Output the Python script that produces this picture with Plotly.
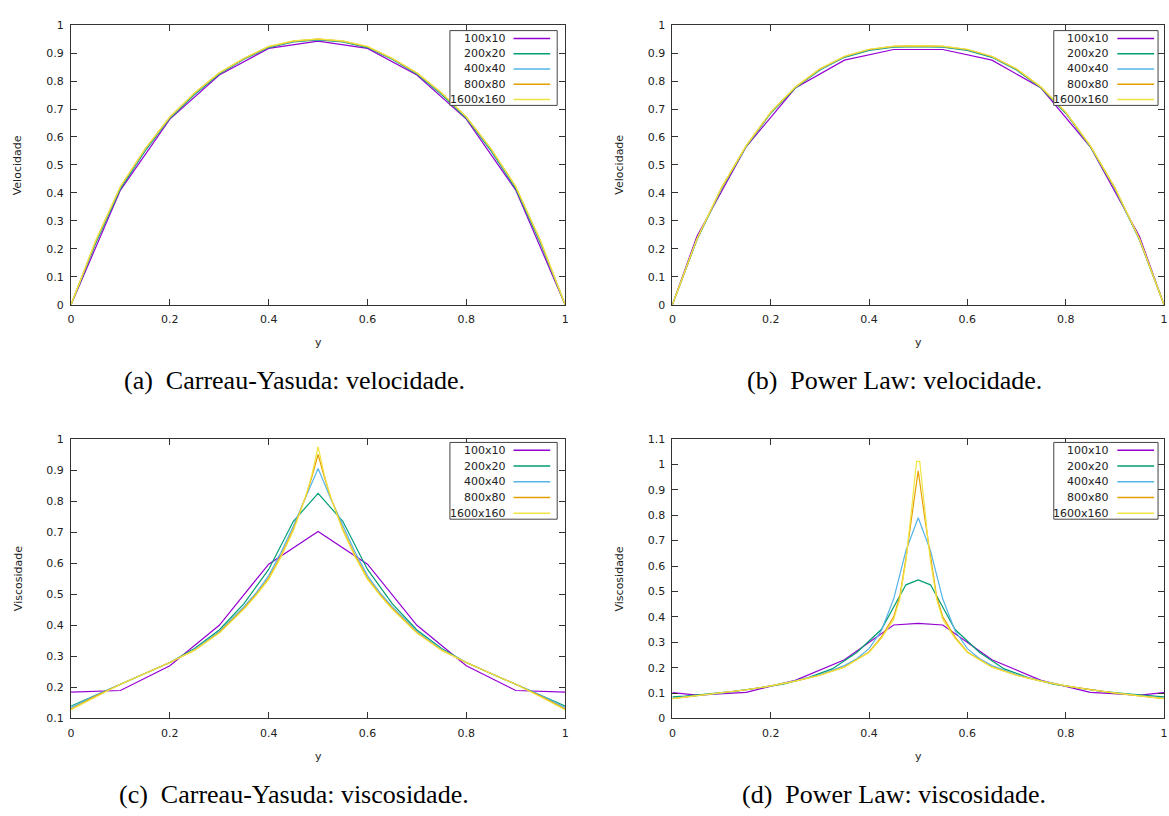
import plotly.graph_objects as go

W, H = 1169, 816

# ---------------- data ----------------
series_names = ["100x10", "200x20", "400x40", "800x80", "1600x160"]
series_colors = ["#9400d3", "#009e73", "#56b4e9", "#e69f00", "#f0e442"]

x10 = [0.0, 0.1, 0.2, 0.3, 0.4, 0.5, 0.6, 0.7, 0.8, 0.9, 1.0]
x20 = [0.0, 0.05, 0.1, 0.15, 0.2, 0.25, 0.3, 0.35, 0.4, 0.45, 0.5,
       0.55, 0.6, 0.65, 0.7, 0.75, 0.8, 0.85, 0.9, 0.95, 1.0]

# (a) Carreau-Yasuda velocity
a_100 = [0, 0.41, 0.664, 0.822, 0.917, 0.943, 0.917, 0.822, 0.664, 0.41, 0]
a_200 = [0, 0.22, 0.415, 0.55, 0.667, 0.752, 0.825, 0.878, 0.92, 0.94, 0.947,
         0.94, 0.92, 0.878, 0.825, 0.752, 0.667, 0.55, 0.415, 0.22, 0]
a_400 = [0, 0.225, 0.42, 0.555, 0.67, 0.755, 0.828, 0.88, 0.922, 0.942, 0.949,
         0.942, 0.922, 0.88, 0.828, 0.755, 0.67, 0.555, 0.42, 0.225, 0]
a_800 = [0, 0.228, 0.422, 0.557, 0.671, 0.757, 0.829, 0.881, 0.923, 0.943, 0.95,
         0.943, 0.923, 0.881, 0.829, 0.757, 0.671, 0.557, 0.422, 0.228, 0]
a_1600 = [0, 0.23, 0.423, 0.558, 0.672, 0.758, 0.83, 0.882, 0.924, 0.944, 0.951,
          0.944, 0.924, 0.882, 0.83, 0.758, 0.672, 0.558, 0.423, 0.23, 0]

# (b) Power Law velocity
bx100 = [0, 0.05, 0.15, 0.25, 0.35, 0.45, 0.55, 0.65, 0.75, 0.85, 0.95, 1]
b_100 = [0, 0.245, 0.565, 0.775, 0.875, 0.913, 0.913, 0.875, 0.775, 0.565, 0.245, 0]
b_200 = [0, 0.232, 0.415, 0.565, 0.685, 0.775, 0.84, 0.885, 0.91, 0.921, 0.923,
         0.921, 0.91, 0.885, 0.84, 0.775, 0.685, 0.565, 0.415, 0.232, 0]
b_400 = [0, 0.234, 0.417, 0.567, 0.687, 0.777, 0.842, 0.887, 0.912, 0.923, 0.925,
         0.923, 0.912, 0.887, 0.842, 0.777, 0.687, 0.567, 0.417, 0.234, 0]
b_800 = [0, 0.235, 0.418, 0.568, 0.688, 0.778, 0.843, 0.888, 0.913, 0.924, 0.926,
         0.924, 0.913, 0.888, 0.843, 0.778, 0.688, 0.568, 0.418, 0.235, 0]
b_1600 = [0, 0.236, 0.419, 0.569, 0.689, 0.779, 0.844, 0.889, 0.914, 0.925, 0.927,
          0.925, 0.914, 0.889, 0.844, 0.779, 0.689, 0.569, 0.419, 0.236, 0]

# (c) Carreau-Yasuda viscosity
c_100 = [0.185, 0.19, 0.27, 0.40, 0.597, 0.702, 0.597, 0.40, 0.27, 0.19, 0.185]
c_200 = [0.14, 0.175, 0.21, 0.245, 0.28, 0.325, 0.385, 0.47, 0.58, 0.735, 0.825,
         0.735, 0.58, 0.47, 0.385, 0.325, 0.28, 0.245, 0.21, 0.175, 0.14]
cx400 = [0, 0.05, 0.1, 0.15, 0.2, 0.25, 0.3, 0.35, 0.375, 0.4, 0.425, 0.45, 0.475, 0.5,
         0.525, 0.55, 0.575, 0.6, 0.625, 0.65, 0.7, 0.75, 0.8, 0.85, 0.9, 0.95, 1]
c_400 = [0.135, 0.175, 0.21, 0.245, 0.28, 0.322, 0.38, 0.46, 0.505, 0.56, 0.635, 0.72, 0.81, 0.905,
         0.81, 0.72, 0.635, 0.56, 0.505, 0.46, 0.38, 0.322, 0.28, 0.245, 0.21, 0.175, 0.135]
cx800 = [0, 0.05, 0.1, 0.15, 0.2, 0.25, 0.3, 0.35, 0.375, 0.4, 0.425, 0.45, 0.475, 0.4875, 0.5,
         0.5125, 0.525, 0.55, 0.575, 0.6, 0.625, 0.65, 0.7, 0.75, 0.8, 0.85, 0.9, 0.95, 1]
c_800 = [0.13, 0.172, 0.21, 0.245, 0.28, 0.32, 0.377, 0.455, 0.5, 0.552, 0.625, 0.71, 0.815, 0.878, 0.95,
         0.878, 0.815, 0.71, 0.625, 0.552, 0.5, 0.455, 0.377, 0.32, 0.28, 0.245, 0.21, 0.172, 0.13]
cx1600 = [0, 0.05, 0.1, 0.15, 0.2, 0.25, 0.3, 0.35, 0.375, 0.4, 0.425, 0.45, 0.475, 0.4875, 0.49375, 0.5,
          0.50625, 0.5125, 0.525, 0.55, 0.575, 0.6, 0.625, 0.65, 0.7, 0.75, 0.8, 0.85, 0.9, 0.95, 1]
c_1600 = [0.128, 0.17, 0.21, 0.245, 0.28, 0.32, 0.375, 0.452, 0.497, 0.548, 0.62, 0.705, 0.815, 0.885, 0.93, 0.975,
          0.93, 0.885, 0.815, 0.705, 0.62, 0.548, 0.497, 0.452, 0.375, 0.32, 0.28, 0.245, 0.21, 0.17, 0.128]

# (d) Power Law viscosity
dx100 = [0, 0.05, 0.15, 0.25, 0.35, 0.45, 0.5, 0.55, 0.65, 0.75, 0.85, 0.95, 1]
d_100 = [0.102, 0.092, 0.103, 0.15, 0.231, 0.368, 0.374, 0.368, 0.231, 0.15, 0.103, 0.092, 0.102]
dx200 = [0, 0.025, 0.075, 0.125, 0.175, 0.225, 0.275, 0.325, 0.375, 0.425, 0.475, 0.5,
         0.525, 0.575, 0.625, 0.675, 0.725, 0.775, 0.825, 0.875, 0.925, 0.975, 1]
d_200 = [0.085, 0.088, 0.097, 0.107, 0.12, 0.135, 0.16, 0.195, 0.26, 0.35, 0.526, 0.545,
         0.526, 0.35, 0.26, 0.195, 0.16, 0.135, 0.12, 0.107, 0.097, 0.088, 0.085]
dx400 = [0, 0.05, 0.1, 0.15, 0.2, 0.25, 0.3, 0.35, 0.375, 0.4, 0.425, 0.45, 0.475, 0.5,
         0.525, 0.55, 0.575, 0.6, 0.625, 0.65, 0.7, 0.75, 0.8, 0.85, 0.9, 0.95, 1]
d_400 = [0.08, 0.09, 0.1, 0.113, 0.128, 0.148, 0.172, 0.208, 0.235, 0.275, 0.345, 0.47, 0.66, 0.79,
         0.66, 0.47, 0.345, 0.275, 0.235, 0.208, 0.172, 0.148, 0.128, 0.113, 0.1, 0.09, 0.08]
dx800 = [0, 0.05, 0.1, 0.15, 0.2, 0.25, 0.3, 0.35, 0.4, 0.425, 0.45, 0.4625, 0.475, 0.4875, 0.5,
         0.5125, 0.525, 0.5375, 0.55, 0.575, 0.6, 0.65, 0.7, 0.75, 0.8, 0.85, 0.9, 0.95, 1]
d_800 = [0.078, 0.089, 0.1, 0.113, 0.128, 0.147, 0.17, 0.203, 0.262, 0.32, 0.4, 0.48, 0.63, 0.8, 0.975,
         0.8, 0.63, 0.48, 0.4, 0.32, 0.262, 0.203, 0.17, 0.147, 0.128, 0.113, 0.1, 0.089, 0.078]
dx1600 = [0, 0.05, 0.1, 0.15, 0.2, 0.25, 0.3, 0.35, 0.4, 0.425, 0.45, 0.4625, 0.475, 0.48125, 0.4875,
          0.49375, 0.496875, 0.503125, 0.50625, 0.5125, 0.51875, 0.525, 0.5375, 0.55, 0.575, 0.6,
          0.65, 0.7, 0.75, 0.8, 0.85, 0.9, 0.95, 1]
d_1600 = [0.078, 0.089, 0.1, 0.113, 0.128, 0.147, 0.17, 0.202, 0.26, 0.315, 0.39, 0.47, 0.62, 0.72, 0.84,
          0.96, 1.012, 1.012, 0.96, 0.84, 0.72, 0.62, 0.47, 0.39, 0.315, 0.26,
          0.202, 0.17, 0.147, 0.128, 0.113, 0.1, 0.089, 0.078]

x_ticks = [0, 0.2, 0.4, 0.6, 0.8, 1]
captions = ["(a)\u2002Carreau-Yasuda: velocidade.", "(b)\u2002Power Law: velocidade.",
            "(c)\u2002Carreau-Yasuda: viscosidade.", "(d)\u2002Power Law: viscosidade."]
y_titles = ["Velocidade", "Velocidade", "Viscosidade", "Viscosidade"]

panels = [
    dict(xs=[x10, x20, x20, x20, x20], ys=[a_100, a_200, a_400, a_800, a_1600],
         yrange=[0, 1], ydtick=0.1),
    dict(xs=[bx100, x20, x20, x20, x20], ys=[b_100, b_200, b_400, b_800, b_1600],
         yrange=[0, 1], ydtick=0.1),
    dict(xs=[x10, x20, cx400, cx800, cx1600], ys=[c_100, c_200, c_400, c_800, c_1600],
         yrange=[0.1, 1], ydtick=0.1),
    dict(xs=[dx100, dx200, dx400, dx800, dx1600], ys=[d_100, d_200, d_400, d_800, d_1600],
         yrange=[0, 1.1], ydtick=0.1),
]

# ---------------- layout geometry (pixels) ----------------
plot_left = [67.5, 673, 67.5, 673]
plot_right = [565, 1168, 565, 1168]
plot_top = [19.5, 19.5, 440, 440]
plot_bottom = [303.5, 303.5, 724, 724]


def px(x):
    return x / W


def py(y):
    return 1 - y / H


AX = "#333333"
TICKFONT = dict(family="DejaVu Sans", size=11, color="#222222")

fig = go.Figure()
layout = dict(width=W, height=H, margin=dict(l=0, r=0, t=0, b=0),
              paper_bgcolor="white", plot_bgcolor="white", showlegend=False)
shapes, annotations = [], []

for i, p in enumerate(panels):
    k = "" if i == 0 else str(i + 1)
    for j in range(5):
        fig.add_trace(go.Scatter(x=p["xs"][j], y=p["ys"][j], mode="lines",
                                 name=series_names[j],
                                 line=dict(color=series_colors[j], width=1.2),
                                 xaxis="x" + k, yaxis="y" + k))
    common = dict(showline=True, linecolor=AX, linewidth=1, mirror="ticks",
                  ticks="inside", ticklen=6, tickcolor=AX, tickwidth=1,
                  showgrid=False, zeroline=False, tickfont=TICKFONT)
    layout["xaxis" + k] = dict(domain=[px(plot_left[i]), px(plot_right[i])],
                               range=[0, 1], tickvals=x_ticks, anchor="y" + k,
                               ticklabelstandoff=4, **common)
    layout["yaxis" + k] = dict(domain=[py(plot_bottom[i]), py(plot_top[i])],
                               range=p["yrange"], dtick=p["ydtick"], tick0=0,
                               anchor="x" + k, ticklabelstandoff=4, **common)

    cx = (plot_left[i] + plot_right[i]) / 2
    # axis titles
    annotations.append(dict(x=px(cx), y=py(plot_bottom[i] + 38.5),
                            xref="paper", yref="paper", text="y", showarrow=False,
                            font=dict(family="DejaVu Sans", size=11, color="#222"),
                            xanchor="center", yanchor="middle"))
    annotations.append(dict(x=px(plot_left[i] - 53), y=py((plot_top[i] + plot_bottom[i]) / 2),
                            xref="paper", yref="paper", text=y_titles[i], showarrow=False,
                            textangle=-90,
                            font=dict(family="DejaVu Sans", size=11, color="#222"),
                            xanchor="center", yanchor="middle"))
    # caption
    annotations.append(dict(x=px(cx - 24), y=py(plot_bottom[i] + 77),
                            xref="paper", yref="paper", text=captions[i], showarrow=False,
                            font=dict(family="Liberation Serif", size=26, color="black"),
                            xanchor="center", yanchor="middle"))

    # key box in the upper right corner
    bx0 = plot_right[i] - 116 + (0 if i % 2 == 0 else 5)
    bx1 = plot_right[i] - 8 + (0 if i % 2 == 0 else 2)
    by0 = plot_top[i] + 5.5 + (0 if i < 2 else -2)
    by1 = by0 + 76 + (0 if i < 2 else 2)
    shapes.append(dict(type="rect", xref="paper", yref="paper",
                       x0=px(bx0), x1=px(bx1), y0=py(by0), y1=py(by1),
                       line=dict(color="#444", width=1), fillcolor="white", layer="above"))
    row_h = (by1 - by0 - 14) / 4
    for j in range(5):
        ry = by0 + 8 + j * row_h
        annotations.append(dict(x=px(bx0 + 58), y=py(ry), xref="paper", yref="paper",
                                text=series_names[j], showarrow=False,
                                font=dict(family="DejaVu Sans", size=11, color="#222"),
                                xanchor="right", yanchor="middle"))
        shapes.append(dict(type="line", xref="paper", yref="paper",
                           x0=px(bx0 + 64), x1=px(bx0 + 101), y0=py(ry), y1=py(ry),
                           line=dict(color=series_colors[j], width=1.5), layer="above"))

layout["shapes"] = shapes
layout["annotations"] = annotations
fig.update_layout(**layout)
fig.write_html("out.html")
